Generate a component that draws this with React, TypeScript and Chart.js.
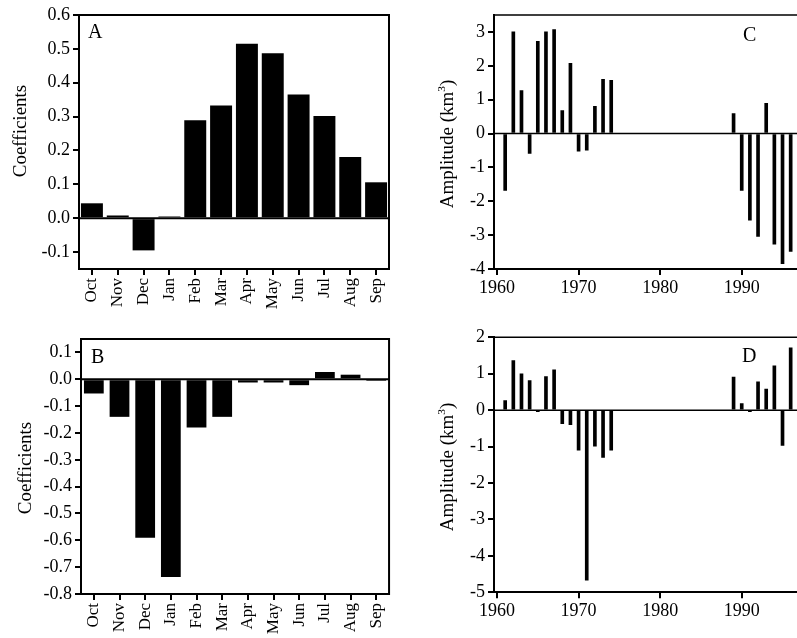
import React, { useEffect, useRef } from "react";
import { Chart, registerables } from "chart.js";

Chart.register(...registerables);

// ---------- data ----------
const months = ["Oct", "Nov", "Dec", "Jan", "Feb", "Mar", "Apr", "May", "Jun", "Jul", "Aug", "Sep"];
const coefA = [0.044, 0.008, -0.095, 0.005, 0.289, 0.333, 0.515, 0.487, 0.365, 0.302, 0.181, 0.106];
const coefB = [-0.053, -0.14, -0.59, -0.737, -0.18, -0.14, -0.012, -0.012, -0.022, 0.027, 0.017, -0.006];

const years = [
  1961, 1962, 1963, 1964, 1965, 1966, 1967, 1968, 1969, 1970, 1971, 1972, 1973, 1974,
  1989, 1990, 1991, 1992, 1993, 1994, 1995, 1996,
];
const ampC = [
  -1.68, 3.0, 1.27, -0.59, 2.72, 3.0, 3.07, 0.68, 2.07, -0.52, -0.49, 0.8, 1.6, 1.57,
  0.59, -1.68, -2.56, -3.04, 0.89, -3.27, -3.84, -3.48,
];
const ampD = [
  0.26, 1.36, 1.0, 0.81, -0.04, 0.92, 1.11, -0.37, -0.4, -1.1, -4.67, -0.99, -1.3, -1.1,
  0.91, 0.18, -0.04, 0.78, 0.58, 1.22, -0.97, 1.71,
];

const ticksA = [-0.1, 0.0, 0.1, 0.2, 0.3, 0.4, 0.5, 0.6];
const ticksB = [-0.8, -0.7, -0.6, -0.5, -0.4, -0.3, -0.2, -0.1, 0.0, 0.1];
const ticksC = [-4, -3, -2, -1, 0, 1, 2, 3];
const ticksD = [-5, -4, -3, -2, -1, 0, 1, 2];
const yearTicks = [1960, 1970, 1980, 1990];

// ---------- styling ----------
const FONT = '"Liberation Serif", "Times New Roman", Times, serif';

type Geo = { yAxisWidth: number; xAxisHeight: number; padTop: number; padRight: number };

function framePlugin(frameW: number, zeroW: number) {
  return {
    id: "frame",
    afterDatasetsDraw(chart: any) {
      const { ctx, chartArea: a, scales } = chart;
      ctx.save();
      ctx.strokeStyle = "#000";
      ctx.lineWidth = frameW;
      ctx.beginPath();
      ctx.moveTo(a.left - 1, a.top);
      ctx.lineTo(a.right, a.top);
      ctx.lineTo(a.right, a.bottom + 1);
      ctx.stroke();
      const y0 = scales.y.getPixelForValue(0);
      ctx.lineWidth = zeroW;
      ctx.beginPath();
      ctx.moveTo(a.left, y0);
      ctx.lineTo(a.right, y0);
      ctx.stroke();
      ctx.restore();
    },
  };
}

const tickGrid = {
  offset: false,
  drawOnChartArea: false,
  drawTicks: true,
  tickLength: 6,
  tickWidth: 2,
  tickColor: "#000",
  lineWidth: 2,
  color: "#000",
};

function yScale(min: number, max: number, ticks: number[], decimals: boolean, geo: Geo) {
  return {
    min,
    max,
    afterBuildTicks: (s: any) => {
      s.ticks = ticks.map((v) => ({ value: v }));
    },
    afterFit: (s: any) => {
      s.width = geo.yAxisWidth;
    },
    ticks: {
      color: "#000",
      font: { family: FONT, size: 18 },
      padding: 3,
      callback: (v: any) => (decimals ? Number(v).toFixed(1) : String(Math.round(Number(v)))),
    },
    grid: tickGrid,
    border: { display: true, color: "#000", width: 2 },
  };
}

function monthConfig(values: number[], yMin: number, yMax: number, ticks: number[], geo: Geo, barPct: number) {
  return {
    type: "bar",
    data: {
      labels: months,
      datasets: [
        {
          data: values,
          backgroundColor: "#000",
          borderWidth: 0,
          categoryPercentage: 1,
          barPercentage: barPct,
        },
      ],
    },
    options: {
      responsive: false,
      animation: false,
      devicePixelRatio: 1,
      events: [],
      layout: { padding: { top: geo.padTop, right: geo.padRight, left: 0, bottom: 0 } },
      plugins: { legend: { display: false }, tooltip: { enabled: false }, title: { display: false } },
      scales: {
        x: {
          type: "category",
          offset: true,
          afterFit: (s: any) => {
            s.height = geo.xAxisHeight;
          },
          ticks: {
            color: "#000",
            font: { family: FONT, size: 17 },
            minRotation: 90,
            maxRotation: 90,
            autoSkip: false,
            padding: 3,
          },
          grid: tickGrid,
          border: { display: true, color: "#000", width: 2 },
        },
        y: yScale(yMin, yMax, ticks, true, geo),
      },
    },
    plugins: [framePlugin(2, 2)],
  };
}

function yearConfig(values: number[], yMin: number, yMax: number, ticks: number[], geo: Geo) {
  return {
    type: "bar",
    data: {
      datasets: [
        {
          data: years.map((yr, i) => ({ x: yr, y: values[i] })),
          backgroundColor: "#000",
          borderWidth: 0,
          barThickness: 3,
        },
      ],
    },
    options: {
      responsive: false,
      animation: false,
      devicePixelRatio: 1,
      events: [],
      layout: { padding: { top: geo.padTop, right: geo.padRight, left: 0, bottom: 0 } },
      plugins: { legend: { display: false }, tooltip: { enabled: false }, title: { display: false } },
      scales: {
        x: {
          type: "linear",
          min: 1959.63,
          max: 2000,
          offset: false,
          afterBuildTicks: (s: any) => {
            s.ticks = yearTicks.map((v) => ({ value: v }));
          },
          afterFit: (s: any) => {
            s.height = geo.xAxisHeight;
          },
          ticks: {
            color: "#000",
            font: { family: FONT, size: 18 },
            maxRotation: 0,
            minRotation: 0,
            autoSkip: false,
            padding: 2,
            callback: (v: any) => String(v),
          },
          grid: tickGrid,
          border: { display: true, color: "#000", width: 2 },
        },
        y: yScale(yMin, yMax, ticks, false, geo),
      },
    },
    plugins: [framePlugin(1.5, 1.5)],
  };
}

function ChartPanel(props: { left: number; top: number; width: number; height: number; make: () => any }) {
  const ref = useRef<HTMLCanvasElement>(null);
  useEffect(() => {
    const chart = new Chart(ref.current as HTMLCanvasElement, props.make());
    return () => chart.destroy();
  }, []);
  return (
    <canvas
      ref={ref}
      width={props.width}
      height={props.height}
      style={{ position: "absolute", left: props.left, top: props.top, width: props.width, height: props.height }}
    />
  );
}

function VText(props: { cx: number; cy: number; children: any }) {
  return (
    <div
      style={{
        position: "absolute",
        left: props.cx,
        top: props.cy,
        transform: "translate(-50%, -50%) rotate(-90deg)",
        whiteSpace: "nowrap",
        fontFamily: FONT,
        fontSize: 19,
        lineHeight: 1,
        color: "#000",
      }}
    >
      {props.children}
    </div>
  );
}

function Letter(props: { x: number; y: number; t: string }) {
  return (
    <div
      style={{
        position: "absolute",
        left: props.x,
        top: props.y,
        fontFamily: FONT,
        fontSize: 20,
        lineHeight: 1,
        color: "#000",
      }}
    >
      {props.t}
    </div>
  );
}

export default function App() {
  return (
    <div
      style={{
        position: "fixed",
        left: 0,
        top: 0,
        width: 797,
        height: 638,
        overflow: "hidden",
        background: "#fff",
      }}
    >
      <ChartPanel
        left={0}
        top={0}
        width={400}
        height={320}
        make={() => monthConfig(coefA, -0.15, 0.6, ticksA, { yAxisWidth: 79, xAxisHeight: 51, padTop: 15, padRight: 11 }, 0.85)}
      />
      <ChartPanel
        left={0}
        top={320}
        width={400}
        height={318}
        make={() => monthConfig(coefB, -0.8, 0.15, ticksB, { yAxisWidth: 81, xAxisHeight: 44, padTop: 19, padRight: 9 }, 0.77)}
      />
      <ChartPanel
        left={400}
        top={0}
        width={440}
        height={320}
        make={() => yearConfig(ampC, -4, 3.5, ticksC, { yAxisWidth: 94, xAxisHeight: 51, padTop: 15, padRight: 16.7 })}
      />
      <ChartPanel
        left={400}
        top={320}
        width={440}
        height={318}
        make={() => yearConfig(ampD, -5, 2, ticksD, { yAxisWidth: 94, xAxisHeight: 45.7, padTop: 17.3, padRight: 16.7 })}
      />
      <VText cx={19} cy={131}>Coefficients</VText>
      <VText cx={24} cy={468}>Coefficients</VText>
      <VText cx={446} cy={144}>
        Amplitude (km<sup style={{ fontSize: "0.6em" }}>3</sup>)
      </VText>
      <VText cx={446} cy={467}>
        Amplitude (km<sup style={{ fontSize: "0.6em" }}>3</sup>)
      </VText>
      <Letter x={88} y={21} t="A" />
      <Letter x={91} y={346} t="B" />
      <Letter x={743} y={24} t="C" />
      <Letter x={742} y={345} t="D" />
    </div>
  );
}
